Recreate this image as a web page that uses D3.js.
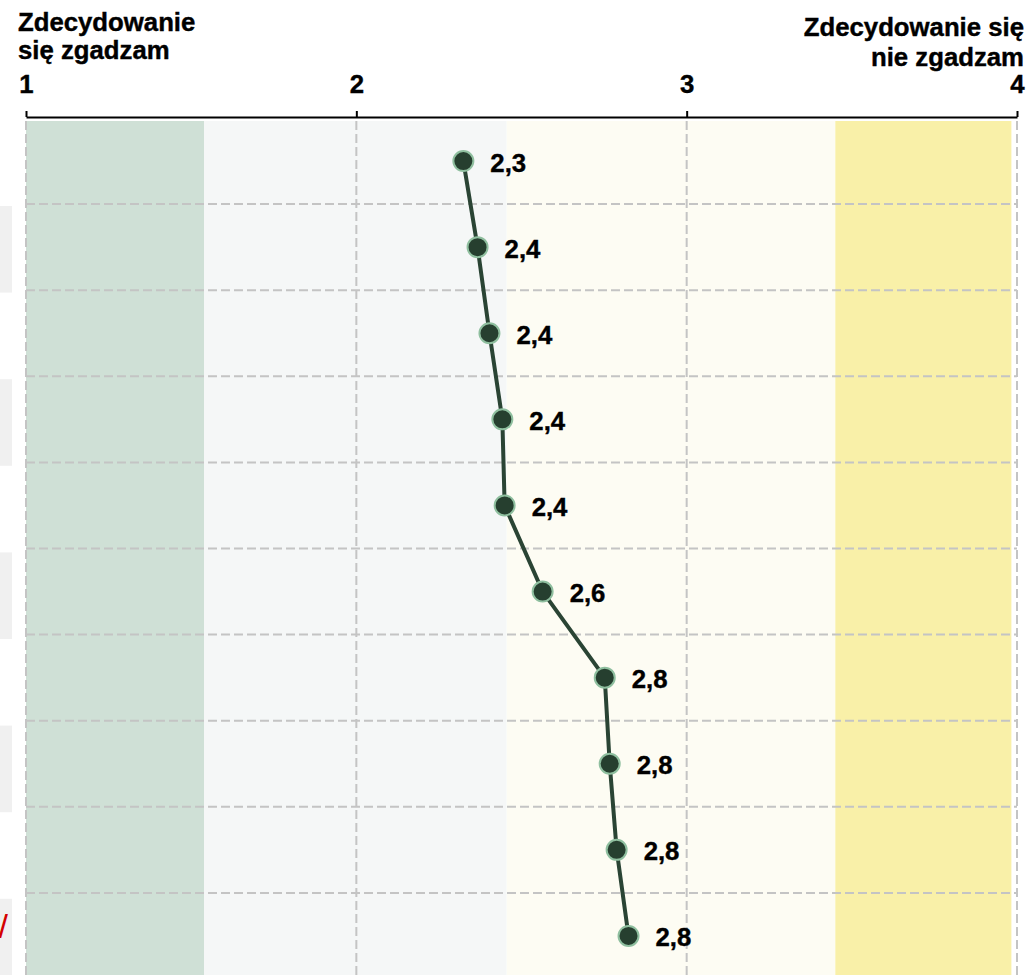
<!DOCTYPE html>
<html lang="pl">
<head>
<meta charset="utf-8">
<title>Średnia ocen</title>
<script src="https://cdn.jsdelivr.net/npm/d3@7"></script>
<style>
  html, body { margin: 0; padding: 0; background: #fff; }
  svg { display: block; font-family: "Liberation Sans", Arial, sans-serif; }
</style>
</head>
<body>
<svg id="chart" width="1032" height="975"></svg>
<script>
// Ten statements, ordered from most to least agreement (scale 1–4)
const items = ["p1", "p2", "p3", "p4", "p5", "p6", "p7", "p8", "p9", "p10"];
const means = [2.324, 2.367, 2.403, 2.442, 2.449, 2.564, 2.752, 2.767, 2.788, 2.824];

const scaleTicks = [1, 2, 3, 4];
const leftTitle = ["Zdecydowanie", "się zgadzam"];
const rightTitle = ["Zdecydowanie się", "nie zgadzam"];

// Background zones along the answer scale
const zoneStops = [1, 1.539, 2.455, 3.45, 3.983];
const zoneColors = ["#cfe0d6", "#f5f7f7", "#fdfcf3", "#f9f0a8"];

// Left label column (mostly outside the visible area)
const labelTail = { row: 9, text: "/" };

const W = 1032, H = 975;
const FS = 25, stretch = 1.03;
const svg = d3.select("#chart");

const x = d3.scaleLinear().domain([1, 4]).range([26, 1017]);
const y = d3.scaleBand().domain(items).range([118, 979]).padding(0);
const yLabels = d3.scaleBand().domain(items).range([119.4, 985.4]).padding(0);

const fmt = v => d3.format(".1f")(v).replace(".", ",");

// Bold text, slightly widened and thickened
function boldText(sel) {
  return sel
    .attr("font-size", FS)
    .attr("font-weight", "bold")
    .attr("fill", "#000")
    .attr("stroke", "#000")
    .attr("stroke-width", 0.4);
}

// Label column stripes
svg.append("g")
  .selectAll("rect")
  .data(items.filter((d, i) => i % 2 === 1))
  .join("rect")
  .attr("x", -300)
  .attr("width", 312)
  .attr("y", d => yLabels(d))
  .attr("height", yLabels.bandwidth())
  .attr("fill", "#f0f0f0");

svg.append("text")
  .attr("transform", `translate(8,${yLabels(items[labelTail.row]) + 39})`)
  .attr("text-anchor", "end")
  .attr("font-size", 34)
  .attr("fill", "#d40000")
  .text(labelTail.text);

// Zones
const zones = d3.pairs(zoneStops).map((p, i) => ({ from: p[0], to: p[1], color: zoneColors[i] }));
svg.append("g")
  .selectAll("rect")
  .data(zones)
  .join("rect")
  .attr("x", d => x(d.from))
  .attr("width", d => x(d.to) - x(d.from))
  .attr("y", 121)
  .attr("height", H - 121)
  .attr("fill", d => d.color);

// Grid
const grid = svg.append("g")
  .attr("stroke", "#c4c4c4")
  .attr("stroke-width", 2)
  .attr("stroke-dasharray", "9,4");

grid.selectAll("line.v")
  .data(scaleTicks)
  .join("line")
  .attr("class", "v")
  .attr("x1", d => x(d)).attr("x2", d => x(d))
  .attr("y1", 121).attr("y2", H);

grid.selectAll("line.h")
  .data(items.slice(1))
  .join("line")
  .attr("class", "h")
  .attr("x1", x(1)).attr("x2", x(4))
  .attr("y1", d => y(d)).attr("y2", d => y(d));

// Top axis
const axis = svg.append("g")
  .attr("transform", "translate(0,117)")
  .call(d3.axisTop(x).tickValues(scaleTicks).tickFormat(d3.format("d")).tickSize(6).tickSizeOuter(0).tickPadding(8));

axis.select(".domain").attr("stroke", "#000").attr("stroke-width", 2);
axis.selectAll(".tick line").attr("stroke", "#000").attr("stroke-width", 2);
axis.selectAll(".tick text")
  .attr("y", -24)
  .attr("dy", 0)
  .attr("font-family", "'Liberation Sans', Arial, sans-serif")
  .attr("transform", `scale(${stretch},1)`)
  .call(boldText);

// End-of-scale titles
function title(lines, xPos, baselines, anchor) {
  lines.forEach((t, i) => {
    svg.append("text")
      .attr("transform", `translate(${xPos},${baselines[i]}) scale(${stretch},1)`)
      .attr("text-anchor", anchor)
      .call(boldText)
      .text(t);
  });
}
title(leftTitle, 18, [31, 59], "start");
title(rightTitle, 1024, [36, 66], "end");

// Profile line and points
const pts = items.map((k, i) => ({ key: k, value: means[i] }));
const cy = d => y(d.key) + y.bandwidth() / 2;

svg.append("path")
  .datum(pts)
  .attr("fill", "none")
  .attr("stroke", "#2a4434")
  .attr("stroke-width", 4)
  .attr("d", d3.line().x(d => x(d.value)).y(cy));

svg.append("g")
  .selectAll("circle")
  .data(pts)
  .join("circle")
  .attr("cx", d => x(d.value))
  .attr("cy", cy)
  .attr("r", 10)
  .attr("fill", "#263f2f")
  .attr("stroke", "#8fbf9f")
  .attr("stroke-width", 2);

svg.append("g")
  .selectAll("text")
  .data(pts)
  .join("text")
  .attr("transform", d => `translate(${x(d.value) + 27},${cy(d) + 10.5}) scale(${stretch},1)`)
  .call(boldText)
  .text(d => fmt(d.value));
</script>
</body>
</html>
